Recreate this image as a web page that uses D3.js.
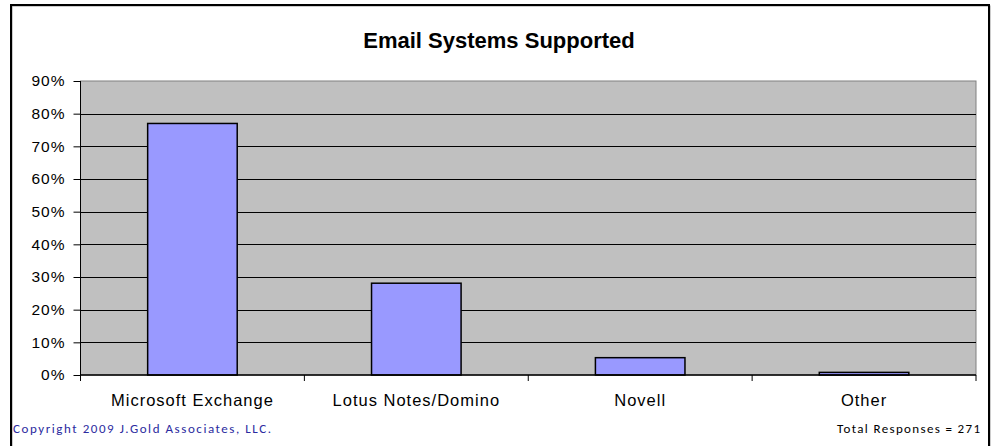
<!DOCTYPE html>
<html>
<head>
<meta charset="utf-8">
<script src="https://cdn.jsdelivr.net/npm/d3@7"></script>
<style>
  html, body { margin: 0; padding: 0; background: #fff; }
  svg { display: block; }
</style>
</head>
<body>
<svg id="chart" width="994" height="446"></svg>
<script>
const categories = ["Microsoft Exchange", "Lotus Notes/Domino", "Novell", "Other"];
const values = [0.77, 0.281, 0.053, 0.008];
const yTicks = [0, 0.1, 0.2, 0.3, 0.4, 0.5, 0.6, 0.7, 0.8, 0.9];
const title = "Email Systems Supported";
const copyright = "Copyright 2009 J.Gold Associates, LLC.";
const totalNote = "Total Responses = 271";

const svg = d3.select("#chart");
const plot = { left: 80.5, right: 976, top: 81, bottom: 375 };

// outer frame
svg.append("rect").attr("x", 12).attr("y", 6).attr("width", 978).attr("height", 460)
  .attr("fill", "none").attr("stroke", "#999").attr("stroke-width", 1);
svg.append("rect").attr("x", 11).attr("y", 5).attr("width", 978).attr("height", 460)
  .attr("fill", "none").attr("stroke", "#000").attr("stroke-width", 2);

const x = d3.scaleBand().domain(categories).range([plot.left, plot.right]).paddingInner(0.6).paddingOuter(0.3);
const y = d3.scaleLinear().domain([0, 0.9]).range([plot.bottom, plot.top]);

// plot background
svg.append("rect").attr("x", plot.left).attr("y", plot.top)
  .attr("width", plot.right - plot.left).attr("height", plot.bottom - plot.top)
  .attr("fill", "#C0C0C0").attr("stroke", "#808080").attr("stroke-width", 1);

// gridlines
svg.append("g").selectAll("line").data(yTicks.filter(d => d > 0 && d < 0.9)).join("line")
  .attr("x1", plot.left).attr("x2", plot.right)
  .attr("y1", d => Math.round(y(d)) + 0.5).attr("y2", d => Math.round(y(d)) + 0.5)
  .attr("stroke", "#000").attr("stroke-width", 1);

// bars
svg.append("g").selectAll("rect").data(values).join("rect")
  .attr("x", (d, i) => x(categories[i]))
  .attr("y", d => y(d))
  .attr("width", x.bandwidth())
  .attr("height", d => y(0) - y(d))
  .attr("fill", "#9999FF").attr("stroke", "#000").attr("stroke-width", 1.5);

// y axis
const yAxis = d3.axisLeft(y).tickValues(yTicks).tickFormat(d3.format(".0%")).tickSize(7).tickPadding(8);
const gy = svg.append("g").attr("transform", `translate(${plot.left},0)`).call(yAxis);
gy.select(".domain").attr("stroke", "#000").attr("d", `M-0,${plot.top}V${plot.bottom}`);
gy.selectAll(".tick line").attr("stroke", "#000");
gy.selectAll("text").attr("font-family", "Arial, 'Liberation Sans', sans-serif").attr("font-size", 15.5)
  .attr("letter-spacing", 1).attr("fill", "#000");

// x axis with ticks at category boundaries
const edges = d3.range(categories.length + 1).map(i => plot.left + i * (plot.right - plot.left) / categories.length);
svg.append("line").attr("x1", plot.left).attr("x2", plot.right).attr("y1", plot.bottom).attr("y2", plot.bottom)
  .attr("stroke", "#000").attr("stroke-width", 1.5);
svg.append("g").selectAll("line").data(edges).join("line")
  .attr("x1", d => d).attr("x2", d => d).attr("y1", plot.bottom).attr("y2", plot.bottom + 6)
  .attr("stroke", "#000");
svg.append("g").selectAll("text").data(categories).join("text")
  .attr("x", d => x(d) + x.bandwidth() / 2).attr("y", 406)
  .attr("text-anchor", "middle")
  .attr("font-family", "Arial, 'Liberation Sans', sans-serif").attr("font-size", 16.5)
  .attr("letter-spacing", 1).attr("fill", "#000")
  .text(d => d);

// title
svg.append("text").attr("x", 499).attr("y", 48).attr("text-anchor", "middle")
  .attr("font-family", "Arial, 'Liberation Sans', sans-serif").attr("font-size", 22).attr("font-weight", "bold")
  .text(title);

// footer
svg.append("text").attr("x", 13).attr("y", 433)
  .attr("font-family", "Carlito, Calibri, 'Open Sans', sans-serif").attr("font-size", 13).attr("fill", "#2B2BA0")
  .attr("textLength", 258).attr("lengthAdjust", "spacing")
  .text(copyright);
svg.append("text").attr("x", 980).attr("y", 433).attr("text-anchor", "end")
  .attr("font-family", "Carlito, Calibri, 'Open Sans', sans-serif").attr("font-size", 13).attr("fill", "#000")
  .attr("textLength", 143).attr("lengthAdjust", "spacing")
  .text(totalNote);
</script>
</body>
</html>
